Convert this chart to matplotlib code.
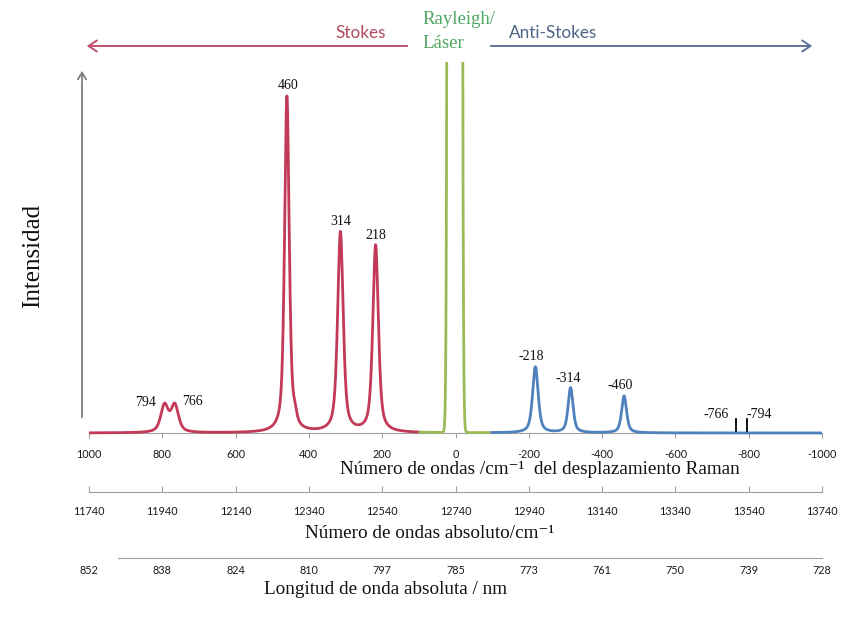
import numpy as np
import matplotlib
matplotlib.use("Agg")
import matplotlib.pyplot as plt
from matplotlib.patches import FancyArrowPatch

# ---------------- data ----------------
shift_ticks = [1000, 800, 600, 400, 200, 0, -200, -400, -600, -800, -1000]
abs_ticks = [11740, 11940, 12140, 12340, 12540, 12740, 12940, 13140, 13340, 13540, 13740]
nm_labels = [852, 838, 824, 810, 797, 785, 773, 761, 750, 739, 728]

# Raman bands (position cm-1, height, FWHM)
peak_pos = [794, 766, 460, 438, 314, 218, -218, -314, -460]
peak_height = [27, 27, 336, 9, 200, 187, 66, 45, 37]
peak_fwhm = [24, 24, 15, 12, 18, 18, 18, 16, 16]
lorentz_fraction = 0.6
# Laser / Rayleigh line (off scale)
laser_pos = 2
laser_height = 160000
laser_sigma = 6.3

label_text = ["794", "766", "460", "314", "218", "-218", "-314", "-460"]
label_pos = [794, 766, 460, 314, 218, -218, -314, -460]
mark_pos = [-766, -794]

stokes_limit = 100
antistokes_limit = -95

# ---------------- figure ----------------
W, H = 844, 620
fig = plt.figure(figsize=(W / 100, H / 100), dpi=100)
fig.patch.set_facecolor("white")

SANS = ["Lato", "DejaVu Sans"]
SERIF = ["Liberation Serif", "DejaVu Serif"]

RED = "#C23A57"
GREEN = "#9BBB59"
BLUE = "#4F81BD"


def fx(px):
    return px / W


def fy(py):
    return 1 - py / H


x_left, x_right = 89, 822

# curve axes
ax = fig.add_axes([fx(x_left), fy(443), (x_right - x_left) / W, 381 / H])
ax.set_xlim(1000, -1000)
ax.set_ylim(-10, 371)
ax.axis("off")
ax.patch.set_alpha(0)
ax.set_zorder(3)

x = np.linspace(1000, -1000, 40001)
y = np.zeros_like(x)
for p, h, f in zip(peak_pos, peak_height, peak_fwhm):
    u = (x - p) / f
    lor = 1.0 / (1.0 + 4 * u ** 2)
    gau = np.exp(-4 * np.log(2) * u ** 2)
    y += h * (lorentz_fraction * lor + (1 - lorentz_fraction) * gau)
y += laser_height * np.exp(-((x - laser_pos) ** 2) / (2 * laser_sigma ** 2))

m_red = x >= stokes_limit
m_green = (x <= stokes_limit) & (x >= antistokes_limit)
m_blue = x <= antistokes_limit
lw = 2.0
ax.plot(x[m_red], y[m_red], color=RED, lw=lw, solid_capstyle="butt")
ax.plot(x[m_green], y[m_green], color=GREEN, lw=lw, solid_capstyle="butt")
ax.plot(x[m_blue], y[m_blue], color=BLUE, lw=lw, solid_capstyle="butt")

# peak labels (pixel offsets from peak top)
offsets = {"794": (-19, 1), "766": (18, 2), "460": (1, 10), "314": (0, 10),
           "218": (0, 9), "-218": (-4, 10), "-314": (-2, 9), "-460": (-4, 10)}


def peak_value(p):
    i = np.argmin(np.abs(x - p))
    return y[i]


LBL = 10
for t, p in zip(label_text, label_pos):
    dx, dy = offsets[t]
    ax.annotate(t, xy=(p, peak_value(p)), xytext=(dx, dy), textcoords="offset pixels",
                ha="center", va="center", fontsize=LBL, family=SERIF, color="#111111")

for p in mark_pos:
    ax.plot([p, p], [2, 14], color="black", lw=1.3)
ax.annotate("-766", xy=(mark_pos[0], 14), xytext=(-20, 4), textcoords="offset pixels",
            ha="center", va="center", fontsize=LBL, family=SERIF, color="#111111")
ax.annotate("-794", xy=(mark_pos[1], 14), xytext=(13, 4), textcoords="offset pixels",
            ha="center", va="center", fontsize=LBL, family=SERIF, color="#111111")

TICK = 7.8
# main (Raman shift) axis
ax1 = fig.add_axes([fx(x_left), fy(433), (x_right - x_left) / W, 0.0001])
ax1.set_xlim(1000, -1000)
for s in ["top", "left", "right"]:
    ax1.spines[s].set_visible(False)
ax1.spines["bottom"].set_color("#A0A0A0")
ax1.set_yticks([])
ax1.set_xticks(shift_ticks)
ax1.set_xticklabels([str(v) for v in shift_ticks])
ax1.tick_params(axis="x", direction="out", length=3.5, color="#A0A0A0", pad=8,
                labelsize=TICK, labelcolor="#1a1a1a")
for lab in ax1.get_xticklabels():
    lab.set_family(SANS)
ax1.set_zorder(1)

# absolute wavenumber axis
ax2 = fig.add_axes([fx(x_left), fy(492), (x_right - x_left) / W, 0.0001])
ax2.set_xlim(abs_ticks[0], abs_ticks[-1])
for s in ["top", "left", "right"]:
    ax2.spines[s].set_visible(False)
ax2.spines["bottom"].set_color("#A0A0A0")
ax2.set_yticks([])
ax2.set_xticks(abs_ticks)
ax2.set_xticklabels([str(v) for v in abs_ticks])
ax2.tick_params(axis="x", direction="in", length=4, color="#A0A0A0", pad=10,
                labelsize=TICK, labelcolor="#1a1a1a")
for lab in ax2.get_xticklabels():
    lab.set_family(SANS)

# absolute wavelength axis
ax3 = fig.add_axes([fx(x_left), fy(558), (x_right - x_left) / W, 0.0001])
ax3.set_xlim(abs_ticks[0], abs_ticks[-1])
for s in ["top", "left", "right"]:
    ax3.spines[s].set_visible(False)
ax3.spines["bottom"].set_color("#A0A0A0")
span = abs_ticks[-1] - abs_ticks[0]
ax3.spines["bottom"].set_bounds(abs_ticks[0] + span * (118 - x_left) / (x_right - x_left), abs_ticks[-1])
ax3.set_yticks([])
ax3.set_xticks(abs_ticks)
ax3.set_xticklabels([str(v) for v in nm_labels])
ax3.tick_params(axis="x", length=0, pad=5, labelsize=TICK, labelcolor="#1a1a1a")
for lab in ax3.get_xticklabels():
    lab.set_family(SANS)

# axis titles
TITLE = 13.8
fig.text(fx(540), fy(469), "Número de ondas /cm⁻¹  del desplazamiento Raman",
         ha="center", va="center", fontsize=TITLE, family=SERIF, color="#111111")
fig.text(fx(430), fy(534), "Número de ondas absoluto/cm⁻¹",
         ha="center", va="center", fontsize=TITLE, family=SERIF, color="#111111")
fig.text(fx(386), fy(590), "Longitud de onda absoluta / nm",
         ha="center", va="center", fontsize=TITLE, family=SERIF, color="#111111")
fig.text(fx(33), fy(256), "Intensidad", rotation=90,
         ha="center", va="center", fontsize=18, family=SERIF, color="#111111")

# intensity arrow
fig.add_artist(FancyArrowPatch((fx(82), fy(420)), (fx(82), fy(68)),
                               transform=fig.transFigure, arrowstyle="->,head_length=5,head_width=3",
                               color="#7F7F7F", lw=1.3, mutation_scale=1))

# Stokes / anti-Stokes arrows
fig.add_artist(FancyArrowPatch((fx(410), fy(46)), (fx(84), fy(46)),
                               transform=fig.transFigure, arrowstyle="->,head_length=6,head_width=4",
                               color="#C0506A", lw=1.4, mutation_scale=1))
fig.add_artist(FancyArrowPatch((fx(488), fy(46)), (fx(815), fy(46)),
                               transform=fig.transFigure, arrowstyle="->,head_length=6,head_width=4",
                               color="#5F7299", lw=1.4, mutation_scale=1))
fig.text(fx(361), fy(33), "Stokes", ha="center", va="center", fontsize=12.3,
         family=SANS, color="#B04A5E")
fig.text(fx(553), fy(33), "Anti-Stokes", ha="center", va="center", fontsize=12.3,
         family=SANS, color="#4E6585")
fig.text(fx(459), fy(20), "Rayleigh/", ha="center", va="center", fontsize=13.5,
         family=SERIF, color="#4FA660")
fig.text(fx(443), fy(44), "Láser", ha="center", va="center", fontsize=13.5,
         family=SERIF, color="#4FA660")

fig.savefig("out.png", dpi=100)
